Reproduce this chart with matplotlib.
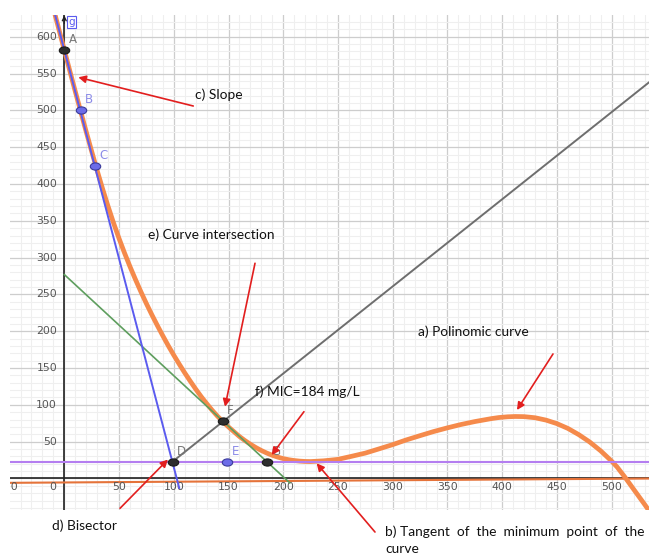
import matplotlib
matplotlib.use("Agg")
import matplotlib.pyplot as plt
from matplotlib.path import Path

# ---- polynomial curve ----
curve_x = [-12, 0, 5, 10, 15, 20, 25, 30, 35, 40, 45, 50, 55, 60, 65, 70, 75,
           80, 85, 90, 95, 100, 105, 110, 115, 120, 125, 130, 135, 140, 145,
           150, 155, 160, 165, 170, 175, 180, 185, 190, 195, 200, 205, 210,
           215, 220, 225, 237, 250, 262, 275, 287, 300, 312, 325, 337, 350,
           362, 375, 390, 397, 405, 412, 420, 430, 440, 450, 460, 470, 480,
           490, 500, 505, 512, 520, 530, 540]
curve_y = [650, 582, 553.8, 525.8, 498.3, 471, 444.3, 418.3, 393.3, 369.5,
           347, 326, 306.3, 287.8, 270.3, 253.5, 237.5, 222.3, 207.8, 193.8,
           180.3, 167.5, 155.3, 143.5, 132.3, 121.5, 111.3, 101.8, 92.8, 84.5,
           77, 70, 63.5, 57, 51.5, 46.5, 42, 38, 34.5, 31.5, 29, 27, 25.5,
           24.4, 23.6, 23.15, 23, 24, 26, 30, 34.5, 40, 46, 52.2, 58.2, 63.6,
           68.8, 73.2, 77.3, 81.3, 82.8, 83.8, 84.2, 84, 82.5, 79.3, 74.5,
           68, 59.5, 49.5, 37.5, 23.5, 15.5, 2, -14.5, -35, -56]

# ---- straight lines ----
slope_x, slope_y = [-12, 105], [650, -13]          # c) slope
tangent_x, tangent_y = [0, 206], [277, -6]         # tangent through F
bisector_x, bisector_y = [99, 540], [23, 545]      # d) bisector
min_tangent_y = 23                                 # b) tangent at the minimum
base_x, base_y = [-60, 540], [-6, 0]               # thin orange base line

# ---- named points ----
pt_names = ["A", "B", "C", "D", "E", "F", "G"]
pt_x = [0, 15, 28, 99, 149, 145, 185]
pt_y = [582, 500, 425, 23, 23, 78, 23]
pt_kind = ["dark", "blue", "blue", "dark", "blue", "dark", "dark"]

# ---- tick labels ----
xtick_vals = [-50, 0, 50, 100, 150, 200, 250, 300, 350, 400, 450, 500]
ytick_vals = [50, 100, 150, 200, 250, 300, 350, 400, 450, 500, 550, 600]

# ---- annotations: text and position, arrow tail and head ----
notes = [
    ("c) Slope", (119.4, 520.8)),
    ("e) Curve intersection", (76.5, 330.7)),
    ("a) Polinomic curve", (323.0, 199.0)),
    ("f) MIC=184 mg/L", (174.2, 117.5)),
    ("d) Bisector", (-11.2, -64.5)),
    ("b) Tangent  of  the  minimum  point  of  the", (292.9, -72.7)),
    ("curve", (292.9, -95.7)),
]
arrows = [
    ((117.8, 505.9), (12.8, 544.9)),
    ((174.2, 292.3), (146.8, 97.5)),
    ((218.9, 90.7), (189.4, 31.9)),
    ((446.4, 169.1), (413.5, 93.0)),
    ((50.9, -40.5), (94.7, 25.8)),
    ((283.8, -72.7), (230.5, 20.6)),
]

fig = plt.figure(figsize=(6.49, 5.56), dpi=100)
fig.patch.set_facecolor("white")
ax = fig.add_axes([10 / 649, 46 / 556, 639 / 649, 495 / 556])
for s in ax.spines.values():
    s.set_visible(False)

# grid: major every 50, minor every 10
ax.set_xticks(range(-50, 551, 50))
ax.set_yticks(range(-50, 651, 50))
ax.set_xticks(range(-50, 551, 10), minor=True)
ax.set_yticks(range(-50, 651, 10), minor=True)
ax.set_xlim(-49.6, 534.1)
ax.set_ylim(-42.8, 629.5)
ax.tick_params(which="both", length=0, labelbottom=False, labelleft=False)
ax.grid(which="minor", color="#EFEFEF", lw=0.8, zorder=0)
ax.grid(which="major", color="#CDCDCD", lw=0.9, zorder=0)
ax.set_axisbelow(True)

# coordinate axes
ax.axhline(0, color="#222222", lw=1.2, zorder=1)
ax.axvline(0, color="#222222", lw=1.2, zorder=1)
ax.annotate("", xy=(0, 629), xytext=(0, 618),
            arrowprops=dict(arrowstyle="->", color="#222222", lw=1.0,
                            mutation_scale=7, shrinkA=0, shrinkB=0))

# tick labels
tick_font = dict(fontsize=7.8, color="#555555", family="DejaVu Sans")
for v in xtick_vals:
    xpos = -10.3 if v == 0 else v
    ax.text(xpos, -11.5, f"{v}", ha="center", va="center", clip_on=True, **tick_font)
for v in ytick_vals:
    ax.text(-6.6, v, f"{v}", ha="right", va="center", **tick_font)

# lines
ax.plot(base_x, base_y, color="#E5733A", lw=1.5, zorder=2)
ax.plot(curve_x, curve_y, color="#F58A4B", lw=3.4, zorder=2,
        solid_capstyle="round", solid_joinstyle="round")
ax.axhline(min_tangent_y, color="#B47EF0", lw=1.5, zorder=3)
ax.plot(tangent_x, tangent_y, color="#5E9E5E", lw=1.2, zorder=3)
ax.plot(bisector_x, bisector_y, color="#6E6E6E", lw=1.4, zorder=3)
ax.plot(slope_x, slope_y, color="#5B5BEF", lw=1.4, zorder=3)

# points (oval markers)
circ = Path.unit_circle()
oval = Path(circ.vertices * [1.45, 1.0], circ.codes)
for name, x, y, kind in zip(pt_names, pt_x, pt_y, pt_kind):
    if kind == "dark":
        fc, ec, lc = "#2E2E2E", "#1A1A1A", "#777777"
    else:
        fc, ec, lc = "#6C6CE8", "#3A3A9A", "#8C8CE8"
    ax.plot([x], [y], marker=oval, ms=7.5, mfc=fc, mec=ec, mew=0.8, zorder=5)
    ax.annotate(name, (x, y), xytext=(3, 7.5), textcoords="offset points",
                ha="left", va="center", fontsize=8.5, color=lc, zorder=6)

# label of the slope line
ax.text(3.4, 620, "g", ha="left", va="center", fontsize=7.5, color="#5B5BEF",
        bbox=dict(boxstyle="square,pad=0.1", fc="white", ec="#5B5BEF", lw=0.8),
        zorder=6)

# annotations
for txt, (tx, ty) in notes:
    ax.text(tx, ty, txt, ha="left", va="center", fontsize=9.9, family="Lato",
            color="#111111", clip_on=False, zorder=7)
for tail, head in arrows:
    ax.annotate("", xy=head, xytext=tail, annotation_clip=False,
                arrowprops=dict(arrowstyle="-|>", color="#E21E1E", lw=1.2,
                                mutation_scale=11, shrinkA=0, shrinkB=0),
                zorder=8)

fig.savefig("out.png", dpi=100, facecolor="white")
